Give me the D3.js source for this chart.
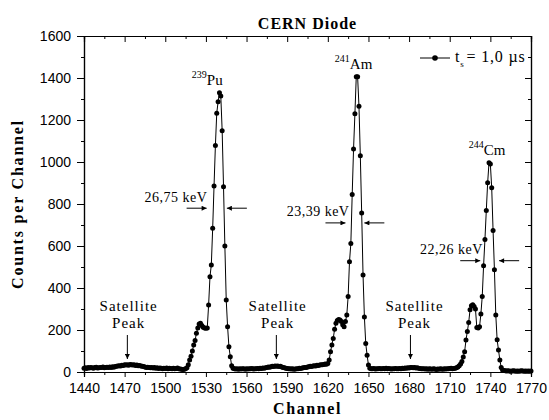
<!DOCTYPE html>
<html>
<head>
<meta charset="utf-8">
<script src="https://cdn.jsdelivr.net/npm/d3@7/dist/d3.min.js"></script>
<style>
  html, body { margin: 0; padding: 0; background: #fff; }
  svg { display: block; }
</style>
</head>
<body>
<svg id="chart" width="549" height="420"></svg>
<script>
// ---------------- DATA ----------------
const firstChannel = 1440;
// counts per channel, channels 1440 .. 1770 (one value per channel)
const countsBase1 = [ // 1440-1515
  18,20,17,21,19,22,20,18,21,23,
  19,20,22,21,24,20,22,23,21,24,
  22,25,23,26,27,28,30,29,32,31,
  34,33,35,32,36,34,33,35,31,33,
  30,31,28,27,26,24,22,23,21,20,
  22,19,21,18,20,17,19,18,16,18,
  17,19,16,18,17,15,18,16,17,19,
  16,14,13,12,13,16
];
const countsPu = [ // 1516-1550
  20,35,57,75,100,129,150,185,210,228,232,222,213,210,208,210,
  319,454,510,684,886,1078,1232,1287,1330,
  1314,1149,882,600,343,216,120,73,30,18
];
const countsBase2 = [ // 1551-1619
  16,14,15,13,15,14,16,15,13,15,
  14,16,15,17,14,16,15,17,16,18,
  17,19,18,20,22,24,23,25,27,26,
  28,27,29,26,27,24,22,20,18,17,
  15,16,14,15,13,14,15,16,18,17,
  19,20,22,21,24,25,27,26,28,30,
  29,32,31,33,35,34,36,38,37
];
const countsAm = [ // 1620-1651
  40,57,97,129,160,203,232,245,250,248,240,225,216,240,271,
  359,525,612,845,1062,1230,1406,1406,1265,1030,757,462,262,136,80,33,18
];
const countsBase3 = [ // 1652-1719
  16,15,17,14,16,15,17,16,15,17,
  16,18,15,17,16,14,16,15,17,16,
  15,17,16,18,17,19,18,20,19,21,
  22,20,21,19,20,18,17,16,15,16,
  14,15,13,15,14,13,15,14,12,14,
  13,15,14,13,15,14,16,15,17,18,
  16,17,18,20,24,30,38,50
];
const countsCm = [ // 1720-1749
  72,97,152,193,236,296,315,320,312,300,212,210,215,276,360,
  506,631,769,901,997,990,877,674,487,272,153,105,57,22,10
];
const countsTail = [ // 1750-1770
  7,6,5,6,5,4,5,6,5,4,5,4,5,6,5,4,5,4,5,4,5
];
const counts = [].concat(countsBase1, countsPu, countsBase2, countsAm, countsBase3, countsCm, countsTail);

const xMajorTicks = [1440,1470,1500,1530,1560,1590,1620,1650,1680,1710,1740,1770];
const xMinorTicks = [1455,1485,1515,1545,1575,1605,1635,1665,1695,1725,1755];
const yMajorTicks = [0,200,400,600,800,1000,1200,1400,1600];
const yMinorTicks = [100,300,500,700,900,1100,1300,1500];

const title = "CERN Diode";
const xTitle = "Channel";
const yTitle = "Counts per Channel";

const isotopes = [
  {mass: "239", name: "Pu", labelCh: 1531, cnt: 1330},
  {mass: "241", name: "Am", labelCh: 1639, cnt: 1406},
  {mass: "244", name: "Cm", labelCh: 1737.5, cnt: 997}
];
const fwhm = [
  {label: "26,75 keV", left: 1532, right: 1544, cnt: 780, textEndCh: 1531, textCnt: 810},
  {label: "23,39 keV", left: 1634.5, right: 1645.5, cnt: 710, textEndCh: 1636, textCnt: 742},
  {label: "22,26 keV", left: 1734, right: 1745, cnt: 530, textEndCh: 1734.5, textCnt: 560}
];
const satellites = [
  {ch: 1472, textCh: 1473},
  {ch: 1582, textCh: 1583},
  {ch: 1681, textCh: 1684}
];

// ---------------- CHART ----------------
const svg = d3.select("#chart");
const L = 84, R = 531, T = 36, B = 372;
const x = d3.scaleLinear().domain([1440, 1770]).range([L, R]);
const y = d3.scaleLinear().domain([0, 1600]).range([B, T]);

const serif = "'Liberation Serif','Times New Roman',Times,serif";
const sans = "'Liberation Sans',Arial,Helvetica,sans-serif";

const defs = svg.append("defs");
defs.append("marker").attr("id", "ah")
  .attr("viewBox", "0 0 10 10").attr("refX", 10).attr("refY", 5)
  .attr("markerWidth", 7).attr("markerHeight", 5).attr("markerUnits", "userSpaceOnUse")
  .attr("orient", "auto")
  .append("path").attr("d", "M0,0 L10,5 L0,10 Z").attr("fill", "#000");

function styleAxis(g, labels) {
  g.select(".domain").attr("stroke", "#000").attr("stroke-width", 1.2);
  g.selectAll(".tick line").attr("stroke", "#000").attr("stroke-width", 1);
  g.selectAll(".tick text").attr("font-family", sans).attr("font-size", 14).attr("fill", "#000");
  if (!labels) g.selectAll(".tick text").remove();
}

// bottom
svg.append("g").attr("transform", `translate(0,${B})`)
  .call(d3.axisBottom(x).tickValues(xMajorTicks).tickFormat(d3.format("d")).tickSize(5).tickPadding(6))
  .call(g => styleAxis(g, true));
svg.append("g").attr("transform", `translate(0,${B})`)
  .call(d3.axisBottom(x).tickValues(xMinorTicks).tickSize(3))
  .call(g => styleAxis(g, false));
// top
svg.append("g").attr("transform", `translate(0,${T})`)
  .call(d3.axisBottom(x).tickValues(xMajorTicks).tickSize(6))
  .call(g => styleAxis(g, false));
svg.append("g").attr("transform", `translate(0,${T})`)
  .call(d3.axisBottom(x).tickValues(xMinorTicks).tickSize(3))
  .call(g => styleAxis(g, false));
// left
svg.append("g").attr("transform", `translate(${L},0)`)
  .call(d3.axisLeft(y).tickValues(yMajorTicks).tickFormat(d3.format("d")).tickSize(7).tickPadding(6))
  .call(g => styleAxis(g, true));
svg.append("g").attr("transform", `translate(${L},0)`)
  .call(d3.axisLeft(y).tickValues(yMinorTicks).tickSize(3))
  .call(g => styleAxis(g, false));
// right
svg.append("g").attr("transform", `translate(${R},0)`)
  .call(d3.axisLeft(y).tickValues(yMajorTicks).tickSize(6))
  .call(g => styleAxis(g, false));
svg.append("g").attr("transform", `translate(${R},0)`)
  .call(d3.axisLeft(y).tickValues(yMinorTicks).tickSize(3))
  .call(g => styleAxis(g, false));

// data
const data = counts.map((c, i) => ({ch: firstChannel + i, c}));
const line = d3.line().x(d => x(d.ch)).y(d => y(d.c));
svg.append("path").datum(data).attr("d", line)
  .attr("fill", "none").attr("stroke", "#000").attr("stroke-width", 1);
svg.append("g").selectAll("circle").data(data).join("circle")
  .attr("cx", d => x(d.ch)).attr("cy", d => y(d.c)).attr("r", 2.5).attr("fill", "#000");

// titles
svg.append("text").attr("x", (L + R) / 2).attr("y", 29).attr("text-anchor", "middle")
  .attr("font-family", serif).attr("font-weight", "bold").attr("font-size", 16)
  .attr("letter-spacing", 1).text(title);
svg.append("text").attr("x", (L + R) / 2).attr("y", 414).attr("text-anchor", "middle")
  .attr("font-family", serif).attr("font-weight", "bold").attr("font-size", 16)
  .attr("letter-spacing", 1.6).text(xTitle);
svg.append("text").attr("transform", `translate(23,${(T + B) / 2}) rotate(-90)`).attr("text-anchor", "middle")
  .attr("font-family", serif).attr("font-weight", "bold").attr("font-size", 16)
  .attr("letter-spacing", 1.8).text(yTitle);

// legend
const lg = svg.append("g");
lg.append("line").attr("x1", 420).attr("x2", 450).attr("y1", 58).attr("y2", 58).attr("stroke", "#000").attr("stroke-width", 1);
lg.append("circle").attr("cx", 435).attr("cy", 58).attr("r", 2.8).attr("fill", "#000");
const lt = lg.append("text").attr("x", 455).attr("y", 62).attr("font-family", serif).attr("font-size", 16)
  .attr("letter-spacing", 0.8);
lt.append("tspan").text("t");
lt.append("tspan").attr("font-size", 9).attr("dy", 5).text("s");
lt.append("tspan").attr("dy", -5).attr("dx", 2).text("= 1,0 µs");

// isotope labels
isotopes.forEach(d => {
  const t = svg.append("text").attr("x", x(d.labelCh)).attr("y", y(d.cnt) - 8)
    .attr("text-anchor", "middle").attr("font-family", serif).attr("font-size", 15);
  t.append("tspan").attr("font-size", 10).attr("dy", -7).text(d.mass);
  t.append("tspan").attr("dy", 7).text(d.name);
});

// FWHM labels and arrows
fwhm.forEach(d => {
  svg.append("text").attr("x", x(d.textEndCh)).attr("y", y(d.textCnt)).attr("text-anchor", "end")
    .attr("font-family", serif).attr("font-size", 14).attr("letter-spacing", 0.5).text(d.label);
  const yy = y(d.cnt);
  svg.append("line").attr("x1", x(d.left) - 22).attr("x2", x(d.left) - 2).attr("y1", yy).attr("y2", yy)
    .attr("stroke", "#000").attr("stroke-width", 1).attr("marker-end", "url(#ah)");
  svg.append("line").attr("x1", x(d.right) + 22).attr("x2", x(d.right) + 2).attr("y1", yy).attr("y2", yy)
    .attr("stroke", "#000").attr("stroke-width", 1).attr("marker-end", "url(#ah)");
});

// satellite labels
satellites.forEach(d => {
  const t = svg.append("text").attr("text-anchor", "middle").attr("font-family", serif)
    .attr("font-size", 15).attr("letter-spacing", 1);
  t.append("tspan").attr("x", x(d.textCh)).attr("y", 311).text("Satellite");
  t.append("tspan").attr("x", x(d.textCh)).attr("y", 328).text("Peak");
  svg.append("line").attr("x1", x(d.ch)).attr("x2", x(d.ch)).attr("y1", 335).attr("y2", 359)
    .attr("stroke", "#000").attr("stroke-width", 1).attr("marker-end", "url(#ah)");
});
</script>
</body>
</html>
